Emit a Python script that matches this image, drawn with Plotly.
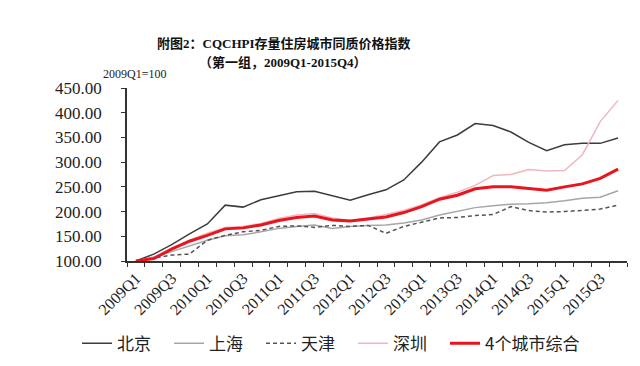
import plotly.graph_objects as go

quarters = [f"{y}Q{q}" for y in range(2009, 2016) for q in range(1, 5)]
tick_labels = [q if i % 2 == 0 else "" for i, q in enumerate(quarters)]

beijing = [100, 114, 133, 155, 175, 213, 209, 224, 232, 240, 241, 232, 223, 234,
           244, 264, 300, 341, 355, 378, 374, 361, 340, 323, 335, 338, 338, 349]
shanghai = [100, 108, 119, 131, 142, 151, 153, 159, 166, 170, 173, 166, 170, 172,
            173, 177, 183, 193, 200, 208, 212, 215, 216, 218, 222, 227, 229, 242]
tianjin = [100, 106, 112, 114, 142, 152, 159, 162, 170, 171, 168, 172, 170, 172,
           156, 170, 179, 187, 188, 192, 194, 210, 202, 199, 200, 202, 205, 213]
shenzhen = [100, 107, 126, 142, 156, 168, 170, 176, 186, 193, 196, 187, 182, 187,
            194, 202, 214, 228, 239, 253, 273, 275, 285, 282, 283, 315, 382, 425]
composite = [100, 105, 124, 140, 152, 165, 167, 173, 182, 188, 191, 183, 181, 185,
             189, 198, 210, 225, 233, 246, 250, 250, 246, 243, 250, 256, 267, 286]

series = [
    ("北京", beijing, dict(color="#3c3c3c", width=1.5), "legend"),
    ("上海", shanghai, dict(color="#a6a6a6", width=1.5), "legend"),
    ("天津", tianjin, dict(color="#555555", width=1.5, dash="4px,3px"), "legend"),
    ("深圳", shenzhen, dict(color="#f2b6bf", width=1.5), "legend"),
    ("4个城市综合", composite, dict(color="#e8141e", width=3), "legend2"),
]

SERIF = "Liberation Serif, Noto Sans CJK SC, serif"
CJK = "Noto Sans CJK SC, Liberation Serif, sans-serif"

fig = go.Figure()
for name, vals, line, lg in series:
    fig.add_trace(go.Scatter(x=quarters, y=vals, name=name, mode="lines", line=line, legend=lg))

legend_y = -0.478
fig.update_layout(
    width=640, height=366,
    margin=dict(l=119, r=21, t=80, b=108),
    paper_bgcolor="white", plot_bgcolor="white",
    showlegend=True,
    legend=dict(orientation="h", x=-0.1, xanchor="left", y=legend_y, yanchor="middle",
                font=dict(family=CJK, size=17, color="#222"),
                entrywidth=47, entrywidthmode="pixels",
                itemwidth=30, bgcolor="rgba(0,0,0,0)"),
    legend2=dict(orientation="h", x=(437 - 119) / 500, xanchor="left", y=legend_y, yanchor="middle",
                 font=dict(family=CJK, size=17, color="#222"),
                 itemwidth=30, bgcolor="rgba(0,0,0,0)"),
    annotations=[
        dict(text="<b>附图2：CQCHPI存量住房城市同质价格指数</b>", xref="paper", yref="paper",
             x=(276 - 119) / 500, y=1 + (80 - 34) / 178, xanchor="center", yanchor="middle",
             showarrow=False, font=dict(family=SERIF, size=13, color="#111")),
        dict(text="<b>（第一组，2009Q1-2015Q4）</b>", xref="paper", yref="paper",
             x=(275 - 119) / 500, y=1 + (80 - 54) / 178, xanchor="center", yanchor="middle",
             showarrow=False, font=dict(family=SERIF, size=13, color="#111")),
        dict(text="2009Q1=100", xref="paper", yref="paper",
             x=(93 - 119) / 500, y=1 + (80 - 66) / 178, xanchor="left", yanchor="middle",
             showarrow=False, font=dict(family=SERIF, size=12, color="#222")),
    ],
)

fig.update_xaxes(
    type="category", categoryorder="array", categoryarray=quarters,
    range=[-0.5, len(quarters) - 0.5],
    tickmode="array", tickvals=quarters, ticktext=tick_labels,
    tickson="boundaries", ticks="outside", ticklen=4, tickwidth=1, tickcolor="#333",
    tickangle=-45, tickfont=dict(family=SERIF, size=16, color="#222"),
    showline=True, linecolor="#333", linewidth=1.5, showgrid=False, zeroline=False,
)
fig.update_yaxes(
    range=[100, 450], dtick=50, tick0=100, tickformat=".2f",
    ticks="outside", ticklen=4, tickwidth=1, tickcolor="#333", ticklabelstandoff=16,
    tickfont=dict(family=SERIF, size=17, color="#222"),
    showline=True, linecolor="#333", linewidth=1.5, showgrid=False, zeroline=False,
)

fig.write_html("out.html")
